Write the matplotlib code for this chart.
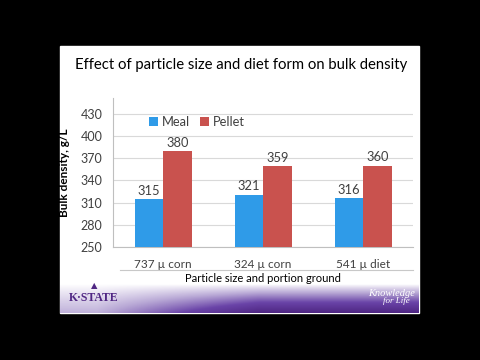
import numpy as np
import matplotlib
matplotlib.use("Agg")
import matplotlib.pyplot as plt
from matplotlib.colors import LinearSegmentedColormap

categorias = ["737 µ corn", "324 µ corn", "541 µ diet"]
meal = [315, 321, 316]
pellet = [380, 359, 360]
series = ["Meal", "Pellet"]
yticks = [250, 280, 310, 340, 370, 400, 430]

azul = "#2f9be8"
rojo = "#c9524e"
gris = "#404040"
morado = "#4f2683"

plt.rcParams['font.family'] = ['Lato', 'DejaVu Sans']

fig = plt.figure(figsize=(4.8, 3.6), dpi=100, facecolor="black")

# fondo de la diapositiva (coordenadas en pixeles)
slide = fig.add_axes([0, 0, 1, 1])
slide.set_xlim(0, 480)
slide.set_ylim(360, 0)
slide.axis("off")
slide.add_patch(plt.Rectangle((60, 46), 359, 267, color="white", zorder=0))

# franja morada inferior
yy = np.linspace(0, 1, 60)[:, None]
xx = np.linspace(0, 1, 200)[None, :]
grad = (yy ** 0.9) * (0.3 + 0.7 * np.clip((xx - 0.1) * 2.2, 0, 1))
cmap = LinearSegmentedColormap.from_list("ks", ["white", "#b9a9d6", "#6a44a8", morado])
slide.imshow(grad, extent=[60, 419, 313, 284], cmap=cmap, vmin=0, vmax=1,
             aspect="auto", zorder=1)
slide.set_xlim(0, 480)
slide.set_ylim(360, 0)

slide.text(241, 65, "Effect of particle size and diet form on bulk density",
           ha="center", va="center", fontsize=10.7, color="black")
slide.plot([120, 413], [270, 270], color="#c8c8c8", lw=0.8)
slide.text(94, 298, "K·STATE", ha="center", va="center", fontsize=8.5,
           color=morado, fontweight="bold", family=["Liberation Serif"])
slide.text(94, 286, "▲", ha="center", va="center", fontsize=6, color=morado)
slide.text(392, 293, "Knowledge", ha="center", va="center", fontsize=7.5,
           color="white", style="italic", family=["Liberation Serif"])
slide.text(396, 301, "for Life", ha="center", va="center", fontsize=6.5,
           color="white", style="italic", family=["Liberation Serif"])

# grafico de barras
ax = fig.add_axes([113 / 480, 1 - 247 / 360, 300 / 480, (247 - 98) / 360])
x = np.arange(len(categorias))
w = 0.285
ax.bar(x - w / 2, [v - 250 for v in meal], w, bottom=250, color=azul,
       label=series[0], zorder=3)
ax.bar(x + w / 2, [v - 250 for v in pellet], w, bottom=250, color=rojo,
       label=series[1], zorder=3)
for i in range(len(categorias)):
    ax.text(x[i] - w / 2, meal[i] + 3, str(meal[i]), ha="center", va="bottom",
            fontsize=9.3, color=gris)
    ax.text(x[i] + w / 2, pellet[i] + 3, str(pellet[i]), ha="center", va="bottom",
            fontsize=9.3, color=gris)

ax.set_xlim(-0.5, 2.5)
ax.set_ylim(250, 451.6)
ax.set_yticks(yticks)
ax.set_xticks(x)
ax.set_xticklabels(categorias)
ax.tick_params(axis="y", length=0, labelsize=9, colors=gris, pad=7.5)
ax.tick_params(axis="x", length=0, labelsize=8.5, colors=gris, pad=9)
ax.grid(axis="y", color="#d9d9d9", lw=0.8, zorder=0)
for s in ["top", "right"]:
    ax.spines[s].set_visible(False)
ax.spines["left"].set_color("#bfbfbf")
ax.spines["bottom"].set_color("#bfbfbf")
ax.set_facecolor("none")
ax.set_ylabel("Bulk density, g/L", fontsize=8.5, fontweight="bold", color="black")
ax.yaxis.set_label_coords((70 - 113) / 300, 0.5)
ax.set_xlabel("Particle size and portion ground", fontsize=8, color="black",
              labelpad=2)
ax.legend(loc="upper left", bbox_to_anchor=(0.08, 0.96), frameon=False, ncol=2,
          fontsize=9.3, handlelength=0.7, handleheight=0.7, handletextpad=0.3,
          columnspacing=0.8, labelcolor=gris)

fig.savefig("out.png", dpi=100, facecolor="black")
